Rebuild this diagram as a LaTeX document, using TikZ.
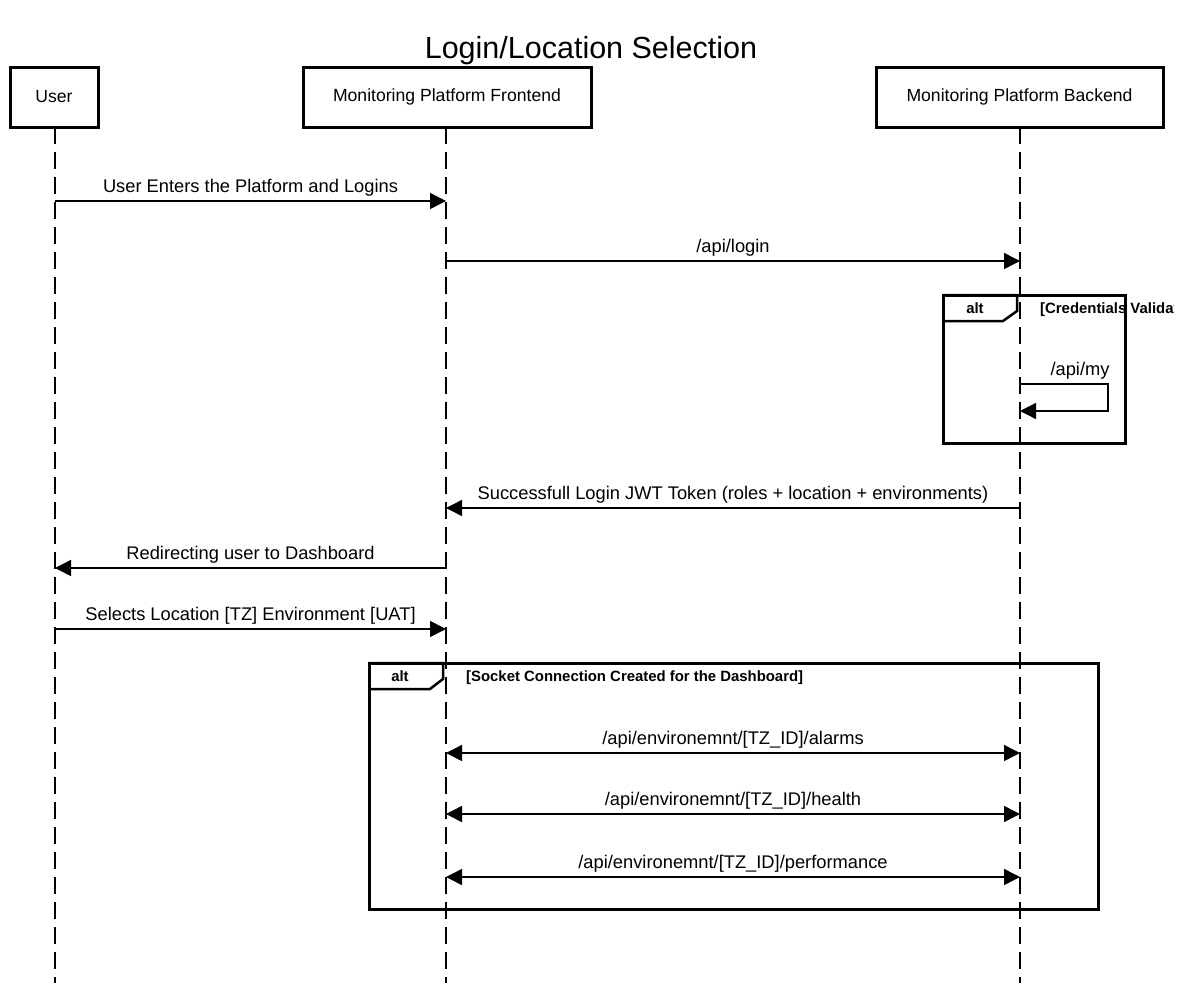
\documentclass[tikz,border=0pt]{standalone}
\usepackage{fontspec}
\setmainfont{Liberation Sans}
\usetikzlibrary{arrows.meta}
\begin{document}
\begin{tikzpicture}[x=1pt,y=-1pt,
  actor/.style={draw,line width=3pt,minimum height=60pt,inner sep=0pt,font=\fontsize{17.6}{20}\selectfont},
  life/.style={line width=1.4pt,dash pattern=on 17pt off 8pt},
  msg/.style={line width=1.5pt,-{Triangle[length=16pt,width=16pt]}},
  dmsg/.style={line width=1.5pt,{Triangle[length=16pt,width=16pt]}-{Triangle[length=16pt,width=16pt]}},
  lbl/.style={font=\fontsize{18.3}{21}\selectfont,inner sep=0pt},
  frame/.style={draw,line width=3pt},
  tab/.style={draw,line width=2.5pt},
  guard/.style={font=\bfseries\fontsize{14.9}{17}\selectfont,inner sep=0pt,anchor=base west}
]
\useasboundingbox (0,0) rectangle (1181,983);
\fill[white] (0,0) rectangle (1181,983);

% title
\node[font=\fontsize{30.5}{34}\selectfont,inner sep=0pt,anchor=base] (title) at (591,58) {Login/Location Selection};

% participants
\node[actor,minimum width=88pt] (user) at (54,97) {User};
\node[actor,minimum width=288pt] (fe) at (447,97) {Monitoring Platform Frontend};
\node[actor,minimum width=287pt] (be) at (1019.5,97) {Monitoring Platform Backend};

% lifelines
\coordinate (userEnd) at (55,983);
\coordinate (feEnd) at (446,983);
\coordinate (beEnd) at (1020,983);
\draw[life] (55,127) -- (userEnd);
\draw[life] (446,127) -- (feEnd);
\draw[life] (1020,127) -- (beEnd);

% message anchors on lifelines
\foreach \n/\y in {1/201,2/261,4/508,5/568,6/629,7/753,8/814,9/877}{
  \coordinate (u\n) at (55,\y);
  \coordinate (f\n) at (446,\y);
  \coordinate (b\n) at (1020,\y);
}

\draw[msg] (u1) -- node[lbl,above=3.5pt] {User Enters the Platform and Logins} (f1);
\draw[msg] (f2) -- node[lbl,above=3.5pt] {/api/login} (b2);

% alt frame: credentials
\draw[frame] (943,295) rectangle (1125,443);
\draw[tab] (943,295) -- (1017,295) -- (1017,311) -- (1003,321) -- (943,321);
\node[guard,anchor=base] (altA) at (975,313) {alt};
\begin{scope}
  \clip (1030,285) rectangle (1173,330);
  \node[guard] (guardA) at (1040,313) {[Credentials Validation]};
\end{scope}

% self call
\coordinate (s1) at (1020,384);
\coordinate (s2) at (1108,384);
\coordinate (s3) at (1108,411);
\coordinate (s4) at (1020,411);
\draw[line width=1.3pt,-{Triangle[length=16pt,width=16pt]}] (s1) -- (s2) -- (s3) -- (s4);
\node[lbl,anchor=base] (selfLbl) at (1080,375) {/api/my};

\draw[msg] (b4) -- node[lbl,above=3.5pt] {Successfull Login JWT Token (roles + location + environments)} (f4);
\draw[msg] (f5) -- node[lbl,above=3.5pt] {Redirecting user to Dashboard} (u5);
\draw[msg] (u6) -- node[lbl,above=3.5pt] {Selects Location [TZ] Environment [UAT]} (f6);

% alt frame: socket
\draw[frame] (369,663) rectangle (1098,909);
\draw[tab] (369,663) -- (443,663) -- (443,679) -- (430,689) -- (369,689);
\node[guard,anchor=base] (altB) at (400,681) {alt};
\node[guard] (guardB) at (466,681) {[Socket Connection Created for the Dashboard]};

\draw[dmsg] (f7) -- node[lbl,above=3.5pt] {/api/environemnt/[TZ\_ID]/alarms} (b7);
\draw[dmsg] (f8) -- node[lbl,above=3.5pt] {/api/environemnt/[TZ\_ID]/health} (b8);
\draw[dmsg] (f9) -- node[lbl,above=3.5pt] {/api/environemnt/[TZ\_ID]/performance} (b9);
\end{tikzpicture}
\end{document}
